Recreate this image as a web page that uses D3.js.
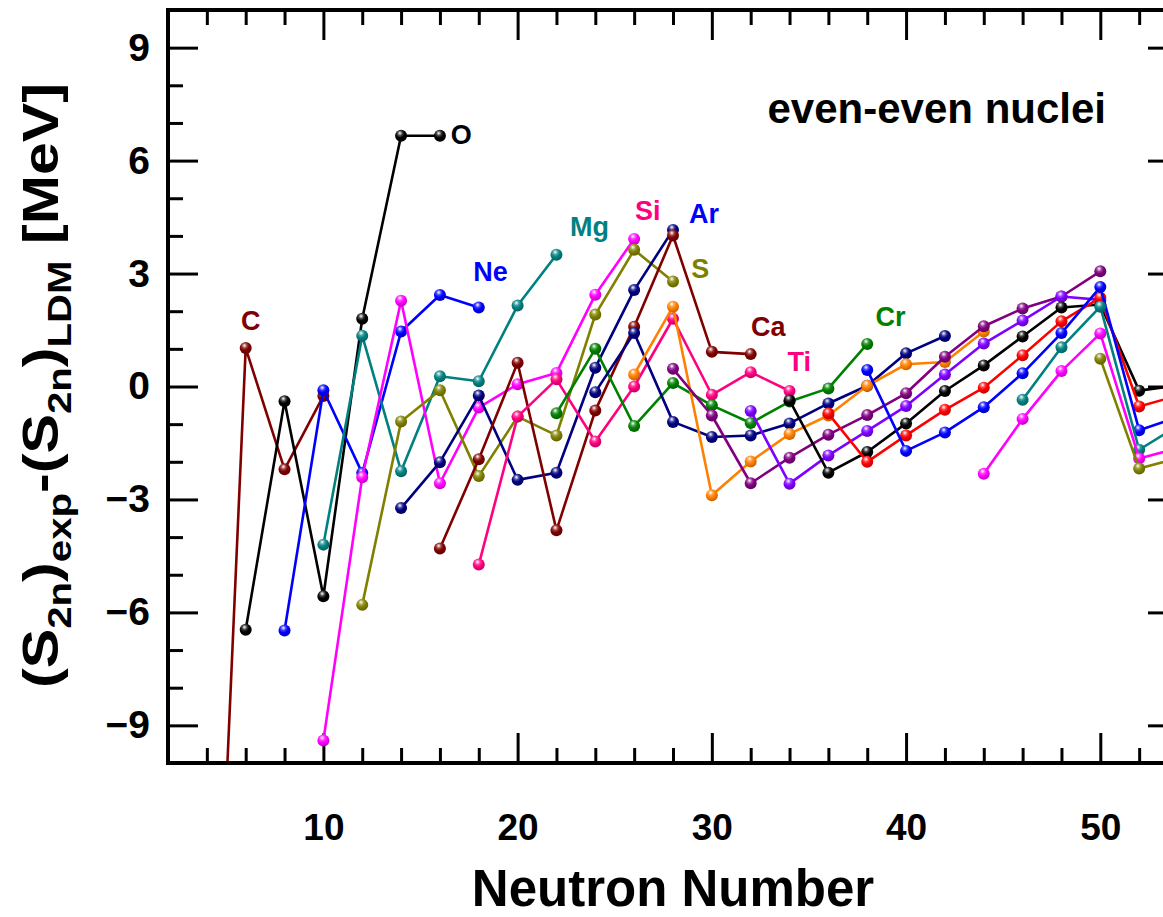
<!DOCTYPE html>
<html>
<head>
<meta charset="utf-8">
<script src="https://cdn.jsdelivr.net/npm/d3@7"></script>
<style>
  body { margin: 0; background: #fff; }
  text { font-family: "Liberation Sans", Arial, sans-serif; font-weight: bold; }
</style>
</head>
<body>
<div id="chart"></div>
<script>
// (S2n)exp - (S2n)LDM for even-even nuclei, pairs of [N, MeV]
var C  = [[4, -22.4], [6, 1.02], [8, -2.20], [10, -0.25]];
var O  = [[6, -6.46], [8, -0.39], [10, -5.57], [12, 1.80], [14, 6.66], [16, 6.66]];
var Ne = [[8, -6.48], [10, -0.10], [12, -2.30], [14, 1.46], [16, 2.43], [18, 2.10]];
var Mg = [[10, -4.20], [12, 1.35], [14, -2.25], [16, 0.27], [18, 0.14], [20, 2.15], [22, 3.50]];
var Si = [[10, -9.40], [12, -2.41], [14, 2.28], [16, -2.57], [18, -0.56], [20, 0.06], [22, 0.36], [24, 2.44], [26, 3.92]];
var S  = [[12, -5.80], [14, -0.93], [16, -0.10], [18, -2.38], [20, -0.80], [22, -1.30], [24, 1.91], [26, 3.63], [28, 2.79]];
var Ar = [[14, -3.23], [16, -2.01], [18, -0.24], [20, -2.48], [22, -2.29], [24, 0.50], [26, 2.56], [28, 4.16]];
var Ca = [[16, -4.30], [18, -1.93], [20, 0.63], [22, -3.82], [24, -0.64], [26, 1.59], [28, 4.01], [30, 0.92], [32, 0.86]];
var Ti = [[18, -4.73], [20, -0.80], [22, 0.19], [24, -1.46], [26, 0.00], [28, 1.80], [30, -0.22], [32, 0.38], [34, -0.12]];
var Cr = [[22, -0.71], [24, 1.00], [26, -1.05], [28, 0.09], [30, -0.50], [32, -0.97], [34, -0.40], [36, -0.05], [38, 1.13]];
var Fe = [[24, -0.15], [26, 1.42], [28, -0.94], [30, -1.34], [32, -1.30], [34, -0.98], [36, -0.45], [38, 0.02], [40, 0.88], [42, 1.34]];
var Ni = [[26, 0.32], [28, 2.12], [30, -2.89], [32, -1.99], [34, -1.26], [36, -0.77], [38, 0.02], [40, 0.59], [42, 0.65], [44, 1.46]];
var Zn = [[28, 0.47], [30, -0.77], [32, -2.57], [34, -1.89], [36, -1.28], [38, -0.76], [40, -0.18], [42, 0.79], [44, 1.60], [46, 2.07], [48, 2.39], [50, 3.06]];
var Ge = [[32, -0.65], [34, -2.58], [36, -1.83], [38, -1.18], [40, -0.52], [42, 0.32], [44, 1.14], [46, 1.75], [48, 2.39], [50, 2.30]];
var Se = [[34, -0.37], [36, -2.29], [38, -1.74], [40, -0.98], [42, -0.12], [44, 0.56], [46, 1.33], [48, 2.10], [50, 2.18], [52, -0.11], [54, 0.03]];
var Kr = [[36, -0.72], [38, -2.00], [40, -1.30], [42, -0.62], [44, -0.03], [46, 0.83], [48, 1.73], [50, 2.36], [52, -0.53], [54, -0.24]];
var Sr = [[38, 0.44], [40, -1.71], [42, -1.22], [44, -0.55], [46, 0.35], [48, 1.42], [50, 2.64], [52, -1.16], [54, -0.81]];
var Zr = [[46, -0.35], [48, 1.04], [50, 2.12], [52, -1.68], [54, -1.04]];
var Mo = [[44, -2.32], [46, -0.86], [48, 0.41], [50, 1.41], [52, -1.91], [54, -1.64]];
var Ru = [[50, 0.74], [52, -2.18], [54, -1.90]];

var xMajor = [10, 20, 30, 40, 50];
var yMajor = [-9, -6, -3, 0, 3, 6, 9];

// element labels: name, N, value where the label sits
var tags = [['C', 6.26, 1.49], ['O', 17.1, 6.45], ['Ne', 18.6, 2.81], ['Mg', 23.7, 4.01],
            ['Si', 26.7, 4.41], ['Ar', 29.6, 4.33], ['S', 29.4, 2.87], ['Ca', 32.9, 1.35],
            ['Ti', 34.5, 0.42], ['Cr', 39.2, 1.62]];

var series = [
  {name: 'C', pts: C}, {name: 'O', pts: O}, {name: 'Ne', pts: Ne}, {name: 'Mg', pts: Mg},
  {name: 'Si', pts: Si}, {name: 'S', pts: S}, {name: 'Ar', pts: Ar}, {name: 'Ca', pts: Ca},
  {name: 'Ti', pts: Ti}, {name: 'Cr', pts: Cr}, {name: 'Fe', pts: Fe}, {name: 'Ni', pts: Ni},
  {name: 'Zn', pts: Zn}, {name: 'Ge', pts: Ge}, {name: 'Se', pts: Se}, {name: 'Kr', pts: Kr},
  {name: 'Sr', pts: Sr}, {name: 'Zr', pts: Zr}, {name: 'Mo', pts: Mo}, {name: 'Ru', pts: Ru}
];

var lineColor = {
  C: '#800000', O: '#000000', Ne: '#0000ff', Mg: '#008080', Si: '#ff00ff', S: '#808000',
  Ar: '#000080', Ca: '#800000', Ti: '#ff0080', Cr: '#008000', Fe: '#000080', Ni: '#ff8000',
  Zn: '#800080', Ge: '#8000ff', Se: '#000000', Kr: '#ff0000', Sr: '#0000ff', Zr: '#008080',
  Mo: '#ff00ff', Ru: '#808000'
};
var tagColor = {
  C: '#800000', O: '#000000', Ne: '#0000ff', Mg: '#008080', Si: '#ff0080', Ar: '#0000ff',
  S: '#808000', Ca: '#800000', Ti: '#ff0080', Cr: '#008000'
};

var W = 1163, H = 917;
var margin = {top: 10, right: -15, bottom: 154, left: 168};

var x = d3.scaleLinear().domain([2, 54]).range([margin.left, W - margin.right]);
var y = d3.scaleLinear().domain([-10, 10]).range([H - margin.bottom, margin.top]);

var svg = d3.select('#chart').append('svg')
  .attr('width', W)
  .attr('height', H);

var defs = svg.append('defs');
defs.append('clipPath').attr('id', 'plotclip')
  .append('rect')
  .attr('x', x(2)).attr('y', y(10))
  .attr('width', x(54) - x(2)).attr('height', y(-10) - y(10));

// shaded "ball" symbols, one gradient per colour
var cols = Array.from(new Set(Object.keys(lineColor).map(function(k) { return lineColor[k]; })));
cols.forEach(function(c) {
  var g = defs.append('radialGradient')
    .attr('id', 'ball' + c.slice(1))
    .attr('cx', '0.4').attr('cy', '0.32').attr('r', '0.7')
    .attr('fx', '0.4').attr('fy', '0.28');
  g.append('stop').attr('offset', '0').attr('stop-color', '#ffffff');
  g.append('stop').attr('offset', '0.3').attr('stop-color', d3.interpolateRgb('#ffffff', c)(0.75));
  g.append('stop').attr('offset', '0.55').attr('stop-color', c);
  g.append('stop').attr('offset', '1').attr('stop-color', d3.color(c).darker(0.8));
});

// axes: ticks all point inwards
var minorX = d3.range(4, 55, 2).filter(function(d) { return d % 10 !== 0; });
var minorY = d3.range(-10, 11, 1).filter(function(d) { return d % 3 !== 0; });

function tickStyle(g) {
  g.select('.domain').remove();
  g.selectAll('.tick line').attr('stroke', '#000').attr('stroke-width', 3);
}

svg.append('g')
  .attr('transform', 'translate(0,' + y(-10) + ')')
  .call(d3.axisBottom(x).tickValues(minorX).tickSize(-15).tickFormat(''))
  .call(tickStyle);
svg.append('g')
  .attr('transform', 'translate(0,' + y(-10) + ')')
  .call(d3.axisBottom(x).tickValues(xMajor).tickSize(-30).tickPadding(51).tickFormat(d3.format('d')))
  .call(tickStyle)
  .selectAll('text')
  .attr('fill', '#000')
  .style('font-size', '37px')
  .style('font-family', '"Liberation Sans", Arial, sans-serif');

svg.append('g')
  .attr('transform', 'translate(0,' + y(10) + ')')
  .call(d3.axisTop(x).tickValues(minorX).tickSize(-15).tickFormat(''))
  .call(tickStyle);
svg.append('g')
  .attr('transform', 'translate(0,' + y(10) + ')')
  .call(d3.axisTop(x).tickValues(xMajor).tickSize(-30).tickFormat(''))
  .call(tickStyle);

svg.append('g')
  .attr('transform', 'translate(' + x(2) + ',0)')
  .call(d3.axisLeft(y).tickValues(minorY).tickSize(-15).tickFormat(''))
  .call(tickStyle);
svg.append('g')
  .attr('transform', 'translate(' + x(2) + ',0)')
  .call(d3.axisLeft(y).tickValues(yMajor).tickSize(-30).tickPadding(18).tickFormat(d3.format('d')))
  .call(tickStyle)
  .selectAll('text')
  .attr('fill', '#000')
  .style('font-size', '39px')
  .style('font-family', '"Liberation Sans", Arial, sans-serif');

svg.append('g')
  .attr('transform', 'translate(' + x(54) + ',0)')
  .call(d3.axisRight(y).tickValues(minorY).tickSize(-15).tickFormat(''))
  .call(tickStyle);
svg.append('g')
  .attr('transform', 'translate(' + x(54) + ',0)')
  .call(d3.axisRight(y).tickValues(yMajor).tickSize(-30).tickFormat(''))
  .call(tickStyle);

// the data
var line = d3.line()
  .x(function(d) { return x(d[0]); })
  .y(function(d) { return y(d[1]); });

var plot = svg.append('g').attr('clip-path', 'url(#plotclip)');

series.forEach(function(s) {
  var c = lineColor[s.name];
  var g = plot.append('g').attr('class', 'series ' + s.name);
  g.append('path')
    .datum(s.pts)
    .attr('d', line)
    .attr('fill', 'none')
    .attr('stroke', c)
    .attr('stroke-width', 2.6)
    .attr('stroke-linejoin', 'round');
  g.selectAll('circle')
    .data(s.pts.filter(function(d) { return d[1] >= -10 && d[1] <= 10; }))
    .enter().append('circle')
    .attr('cx', function(d) { return x(d[0]); })
    .attr('cy', function(d) { return y(d[1]); })
    .attr('r', 6)
    .attr('fill', 'url(#ball' + c.slice(1) + ')');
});

// frame
svg.append('rect')
  .attr('x', x(2)).attr('y', y(10))
  .attr('width', x(54) - x(2)).attr('height', y(-10) - y(10))
  .attr('fill', 'none')
  .attr('stroke', '#000')
  .attr('stroke-width', 4);

// element names
svg.selectAll('.tag')
  .data(tags)
  .enter().append('text')
  .attr('class', 'tag')
  .attr('x', function(d) { return x(d[1]); })
  .attr('y', function(d) { return y(d[2]); })
  .attr('text-anchor', 'middle')
  .attr('fill', function(d) { return tagColor[d[0]]; })
  .style('font-size', '27px')
  .text(function(d) { return d[0]; });

svg.append('text')
  .attr('x', 1106)
  .attr('y', 123)
  .attr('text-anchor', 'end')
  .style('font-size', '42px')
  .text('even-even nuclei');

// axis titles
svg.append('text')
  .attr('x', (x(2) + x(54)) / 2)
  .attr('y', 906)
  .attr('text-anchor', 'middle')
  .style('font-size', '51px')
  .text('Neutron Number');

var yt = svg.append('text')
  .attr('text-anchor', 'middle')
  .style('font-size', '50px');
var parts = [['(S', 0], ['2n', 1], [')', -1], ['exp', 1], ['-(S', -1], ['2n', 1], [')', -1], ['LDM', 1], [' [MeV]', -1]];
parts.forEach(function(p) {
  var t = yt.append('tspan').text(p[0]);
  if (p[1] === 1) t.attr('dy', 13).style('font-size', '34px');
  if (p[1] === -1) t.attr('dy', -13);
});
// stretch the title along its length to span the reference extent
var len = yt.node().getComputedTextLength();
var k = 605 / len;
yt.attr('transform', 'translate(58,' + (y(0) - 1) + ') rotate(-90) scale(' + k + ',1)');
</script>
</body>
</html>
